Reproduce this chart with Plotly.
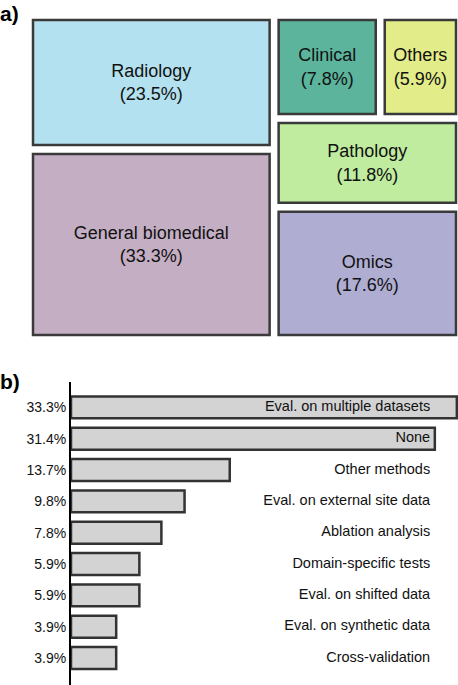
import plotly.graph_objects as go

# panel a: data domains
domains = ["Radiology", "General biomedical", "Clinical", "Others", "Pathology", "Omics"]
domain_share = [23.5, 33.3, 7.8, 5.9, 11.8, 17.6]
domain_colors = ["#B3E1EF", "#C4AEC4", "#5BB49B", "#E2EC88", "#C0ECA0", "#AFADD2"]

# panel b: validation methods
methods = ["Eval. on multiple datasets", "None", "Other methods",
           "Eval. on external site data", "Ablation analysis",
           "Domain-specific tests", "Eval. on shifted data",
           "Eval. on synthetic data", "Cross-validation"]
method_share = [33.3, 31.4, 13.7, 9.8, 7.8, 5.9, 5.9, 3.9, 3.9]
pct_labels = [f"{v}%" for v in method_share]

W, H = 458, 685
FONT = "Liberation Sans, Arial, sans-serif"

fig = go.Figure()

fig.add_trace(go.Treemap(
    labels=domains,
    parents=[""] * len(domains),
    values=domain_share,
    sort=False,
    texttemplate="%{label}<br>(%{value}%)",
    textposition="middle center",
    textfont=dict(family=FONT, size=18, color="#111111"),
    marker=dict(colors=domain_colors, line=dict(color="#3a3a3a", width=2.5),
                pad=dict(t=0, l=0, r=0, b=0)),
    tiling=dict(pad=9, squarifyratio=1),
    pathbar=dict(visible=False),
    hoverinfo="skip",
    domain=dict(x=[33 / W, 456 / W], y=[1 - 335 / H, 1 - 20 / H]),
))

fig.add_trace(go.Bar(
    x=method_share,
    y=methods,
    orientation="h",
    marker=dict(color="#D3D3D3", line=dict(color="#333333", width=2.5)),
    hoverinfo="skip",
    xaxis="x", yaxis="y",
))

# method names, right aligned at a fixed spot
fig.add_trace(go.Scatter(
    x=[31.0] * len(methods),
    y=methods,
    mode="text",
    text=methods,
    textposition="middle left",
    textfont=dict(family=FONT, size=14.5, color="#111111"),
    hoverinfo="skip",
    xaxis="x", yaxis="y",
))

fig.update_layout(
    width=W, height=H,
    margin=dict(l=0, r=0, t=0, b=0),
    paper_bgcolor="white", plot_bgcolor="white",
    showlegend=False,
    bargap=0.3,
    font=dict(family=FONT, size=14, color="#111111"),
    xaxis=dict(domain=[71 / W, 1.0], range=[0, 33.4], visible=False,
               fixedrange=True, automargin=False),
    yaxis=dict(domain=[0, 1 - 382 / H], range=[8.86, -0.81],
               tickvals=methods, ticktext=pct_labels,
               showline=True, linecolor="black", linewidth=2,
               showgrid=False, zeroline=False, ticks="",
               ticklabelstandoff=0, tickfont=dict(size=14, color="#111111"),
               fixedrange=True, automargin=False),
    annotations=[
        dict(text="<b>a)</b>", x=-2 / W, y=1, xref="paper", yref="paper",
             xanchor="left", yanchor="top", showarrow=False,
             font=dict(family=FONT, size=21, color="black")),
        dict(text="<b>b)</b>", x=-2 / W, y=1 - 368 / H, xref="paper", yref="paper",
             xanchor="left", yanchor="top", showarrow=False,
             font=dict(family=FONT, size=21, color="black")),
    ],
)

# page body has a default 8px margin; drop it so the figure sits at 0,0
fig.write_html("out.html", config={"displayModeBar": False},
               post_script="document.body.style.margin='0';")
